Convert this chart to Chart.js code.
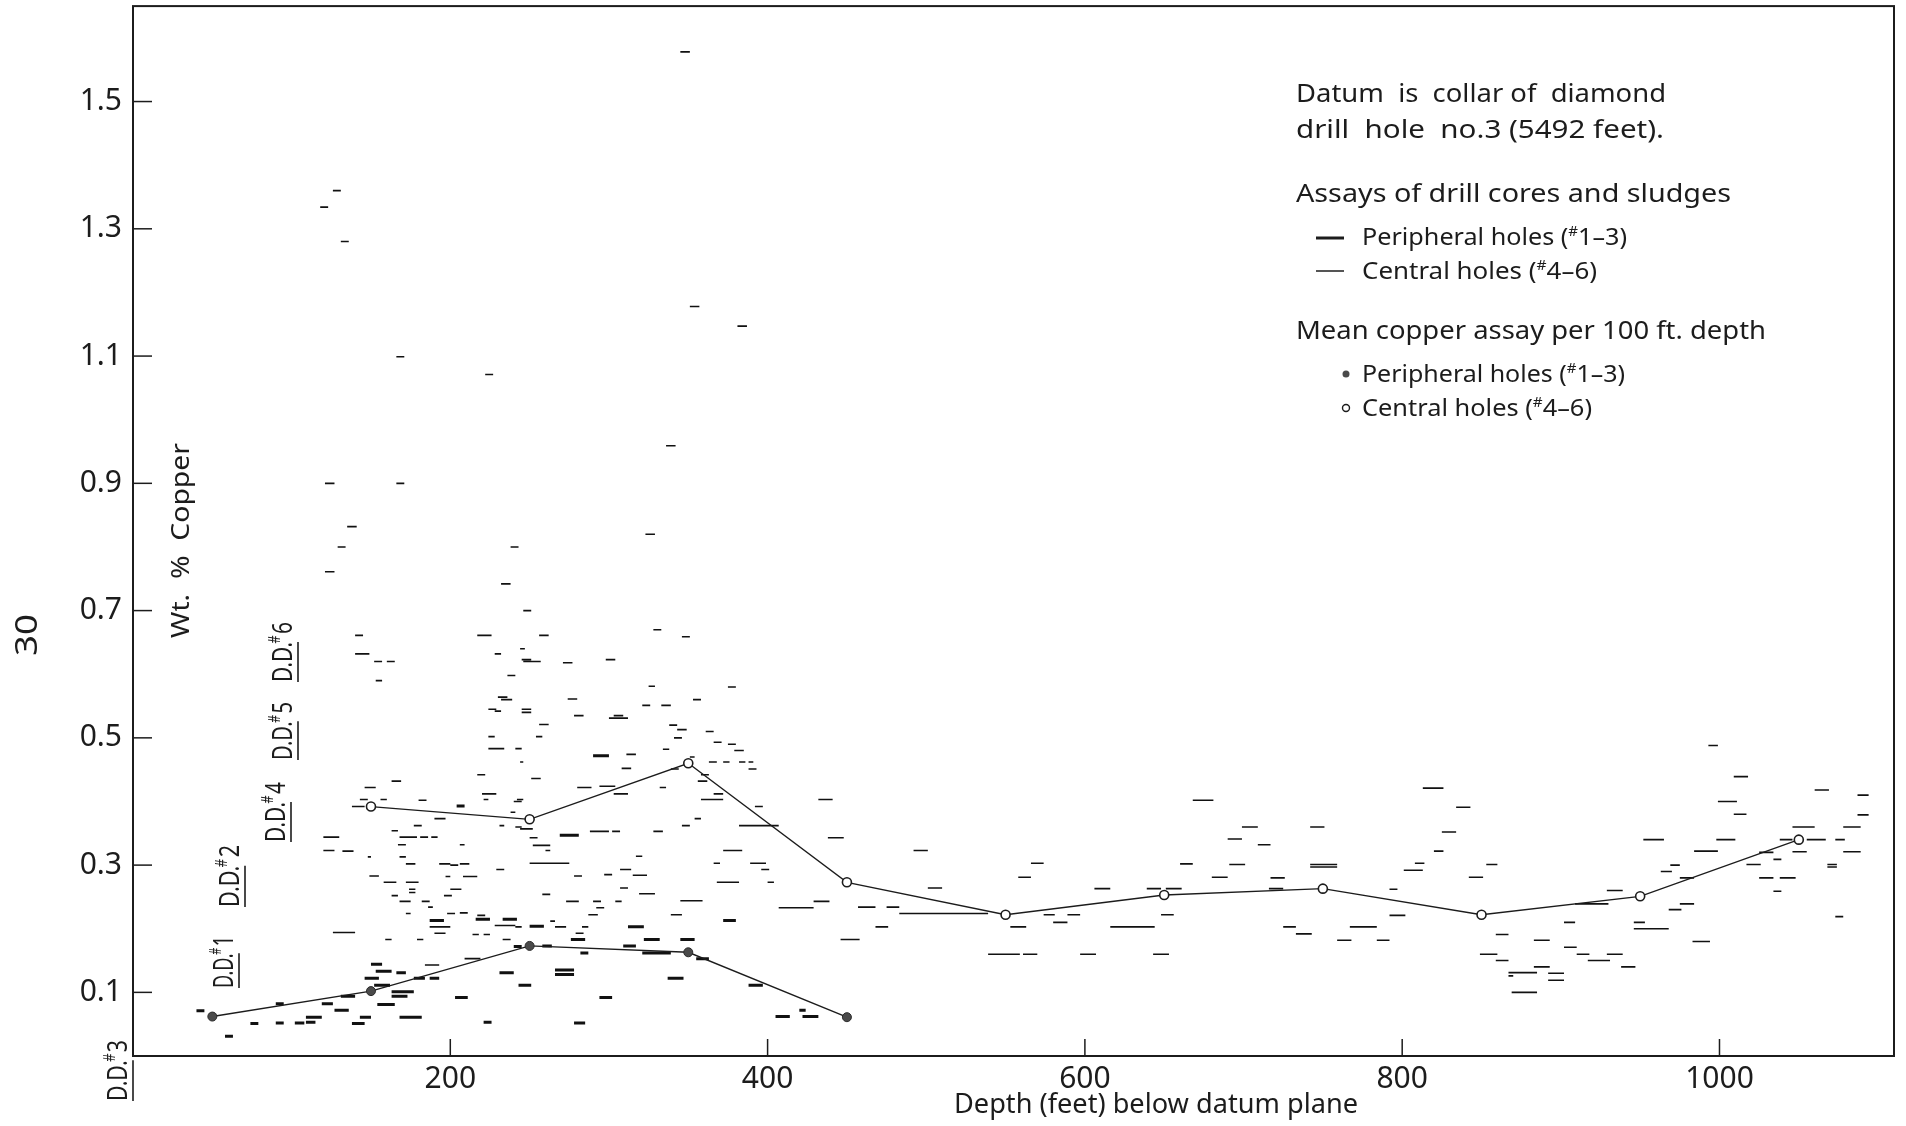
<!DOCTYPE html>
<html>
<head>
<meta charset="utf-8">
<title>Copper assays vs depth</title>
<script src="https://cdn.jsdelivr.net/npm/chart.js@4.4.1/dist/chart.umd.min.js"></script>
<style>
  html, body { margin: 0; padding: 0; background: #fff; }
  canvas { display: block; }
</style>
</head>
<body>
<canvas id="chart" width="1906" height="1126"></canvas>
<script>
// axis ticks
const xTicks = [200, 400, 600, 800, 1000]
const yTicks = [0.1, 0.3, 0.5, 0.7, 0.9, 1.1, 1.3, 1.5]

// mean copper assay per 100 ft
const meanDepthPeri = [50, 150, 250, 350, 450]
const meanPeri = [0.062, 0.102, 0.173, 0.163, 0.061]
const meanDepthCent = [150, 250, 350, 450, 550, 650, 750, 850, 950, 1050]
const meanCent = [0.392, 0.372, 0.460, 0.273, 0.222, 0.253, 0.263, 0.222, 0.251, 0.340]

// single assays: [depth from, depth to, % Cu]
const periDashes = [
  [40,45,0.071],[58,63,0.031],[74,79,0.051],[90,95,0.052],[102,108,0.052],[90,95,0.082],[109,115,0.053],[109,119,0.061],[119,126,0.082],[127,136,0.072],
  [131,140,0.094],[138,146,0.051],[143,150,0.061],[150,157,0.144],[152,162,0.111],[154,165,0.081],[163,177,0.101],[163,173,0.094],[166,172,0.131],[168,182,0.061],
  [177,184,0.122],[187,193,0.122],[203,211,0.092],[221,226,0.053],[231,240,0.131],[187,196,0.213],[216,225,0.215],[233,242,0.215],[240,245,0.172],[243,251,0.111],
  [250,259,0.204],[258,264,0.173],[266,278,0.135],[266,278,0.128],[276,285,0.183],[278,285,0.052],[294,302,0.092],[309,317,0.173],[312,322,0.203],[322,332,0.183],
  [337,347,0.122],[345,354,0.183],[355,363,0.153],[372,380,0.213],[388,397,0.111],[405,414,0.062],[420,424,0.072],[422,432,0.062],[290,300,0.472],[204,209,0.393],
  [269,281,0.347],[146,155,0.122],[153,163,0.133],[321,339,0.162],[282,287,0.162]
]

const centDashesShallow = [
  [120,130,0.344],[120,127,0.323],[132,139,0.322],[126,140,0.194],[148,150,0.313],[149,155,0.283],[158,166,0.273],[172,180,0.273],[167,172,0.332],[168,172,0.313],
  [168,179,0.344],[181,186,0.344],[188,192,0.344],[163,167,0.252],[168,175,0.243],[172,178,0.302],[174,178,0.262],[174,178,0.257],[182,187,0.243],[172,175,0.224],
  [186,189,0.234],[187,200,0.203],[190,197,0.193],[179,183,0.183],[159,163,0.183],[193,200,0.302],[200,205,0.300],[206,212,0.302],[197,200,0.282],[208,217,0.282],
  [196,201,0.252],[200,207,0.262],[198,203,0.224],[206,211,0.225],[228,241,0.205],[214,218,0.191],[221,225,0.191],[217,222,0.221],[233,238,0.183],[229,234,0.293],
  [206,209,0.332],[209,219,0.153],[184,193,0.143],[241,245,0.203],[140,145,0.661],[140,149,0.632],[152,157,0.620],[160,165,0.620],[153,157,0.590],[217,226,0.661],
  [228,232,0.632],[232,239,0.560],[228,232,0.542],[224,228,0.502],[224,234,0.483],[241,245,0.483],[217,222,0.442],[220,229,0.412],[221,224,0.403],[240,245,0.400],
  [163,169,0.432],[146,153,0.422],[143,148,0.403],[138,146,0.392],[156,160,0.403],[180,185,0.402],[190,197,0.373],[177,182,0.362],[163,167,0.354],[231,234,0.362],
  [238,241,0.383],[241,245,0.360],[246,251,0.700],[256,262,0.661],[244,247,0.640],[246,257,0.620],[328,333,0.670],[346,351,0.659],[274,280,0.561],[245,251,0.540],
  [256,262,0.521],[254,258,0.502],[244,246,0.462],[300,312,0.531],[321,326,0.551],[325,329,0.581],[375,380,0.580],[353,358,0.560],[338,343,0.520],[341,346,0.500],
  [334,338,0.482],[361,366,0.510],[375,380,0.490],[379,385,0.480],[363,368,0.462],[372,376,0.462],[382,386,0.462],[388,391,0.462],[388,393,0.451],[339,344,0.451],
  [351,354,0.470],[358,363,0.442],[356,362,0.432],[366,372,0.412],[358,372,0.403],[392,397,0.392],[432,441,0.403],[280,289,0.422],[294,304,0.424],[303,312,0.412],
  [242,246,0.403],[332,336,0.422],[354,358,0.373],[346,351,0.362],[382,407,0.362],[288,300,0.353],[302,307,0.353],[328,334,0.353],[438,448,0.343],[244,252,0.357],
  [250,255,0.343],[252,263,0.331],[260,263,0.323],[250,261,0.303],[261,275,0.303],[278,283,0.283],[297,302,0.285],[307,314,0.293],[315,324,0.284],[317,321,0.314],
  [307,312,0.264],[319,329,0.255],[258,263,0.254],[273,281,0.243],[290,295,0.243],[304,308,0.243],[292,297,0.233],[287,293,0.222],[263,266,0.212],[266,273,0.203],
  [283,287,0.203],[279,284,0.193],[345,359,0.244],[339,346,0.222],[368,382,0.273],[372,384,0.323],[366,370,0.303],[389,399,0.303],[396,401,0.293],[400,404,0.273],
  [407,429,0.233],[429,439,0.243],[446,458,0.183],
  // high values
  [345,351,1.578],[118,123,1.334],[126,131,1.360],[131,136,1.280],[166,171,1.099],[222,227,1.071],[351,357,1.178],[381,387,1.147],[121,127,0.900],[166,171,0.900],
  [135,141,0.832],[129,134,0.800],[121,127,0.761],[238,243,0.800],[323,329,0.820],[336,342,0.959],[232,238,0.742],[245,251,0.623],[245,251,0.545],[278,284,0.535],
  [298,304,0.623],[271,277,0.618],[303,309,0.535],[333,339,0.551],[343,349,0.513],[251,257,0.436],[366,371,0.493],[224,229,0.545],[230,236,0.564],[236,241,0.598],
  [308,314,0.452],[311,317,0.474]
]

const centDashesDeep = [
  [457,468,0.234],[475,483,0.234],[468,476,0.203],[483,488,0.224],[492,501,0.323],[501,510,0.264],[483,539,0.224],[566,574,0.303],[558,566,0.281],[553,563,0.203],
  [539,559,0.160],[561,570,0.160],[574,581,0.222],[589,597,0.222],[580,589,0.210],[597,607,0.160],[606,616,0.263],[616,644,0.203],[639,648,0.263],[651,661,0.263],
  [648,656,0.222],[643,653,0.160],[660,668,0.302],[668,681,0.402],[680,690,0.281],[690,699,0.341],[691,701,0.301],[699,709,0.360],[709,717,0.332],[716,725,0.263],
  [717,726,0.280],[725,733,0.203],[733,743,0.192],[742,751,0.360],[742,759,0.301],[742,759,0.297],[759,768,0.182],[767,784,0.203],[784,792,0.182],[792,802,0.221],
  [792,797,0.262],[801,813,0.292],[808,814,0.303],[813,826,0.421],[820,826,0.322],[825,834,0.352],[834,843,0.391],[842,851,0.281],[853,860,0.301],[849,860,0.160],
  [859,867,0.191],[859,867,0.150],[867,885,0.131],[867,870,0.126],[869,885,0.100],[883,893,0.140],[892,902,0.130],[892,902,0.119],[883,893,0.182],[902,909,0.210],
  [902,910,0.171],[910,918,0.160],[917,931,0.150],[909,930,0.239],[929,939,0.160],[929,939,0.260],[938,947,0.140],[946,953,0.210],[946,968,0.200],[952,965,0.340],
  [963,970,0.290],[968,976,0.230],[969,975,0.300],[975,984,0.239],[975,984,0.280],[983,994,0.180],[984,999,0.322],[993,999,0.488],[998,1010,0.340],[999,1011,0.400],
  [1009,1018,0.439],[1009,1017,0.380],[1017,1026,0.301],[1025,1034,0.280],[1025,1034,0.320],[1034,1039,0.259],[1034,1039,0.309],[1038,1048,0.280],[1038,1046,0.340],[1046,1060,0.360],
  [1046,1055,0.321],[1055,1067,0.340],[1060,1069,0.418],[1068,1074,0.301],[1068,1074,0.297],[1073,1079,0.340],[1073,1078,0.219],[1078,1089,0.360],[1078,1089,0.321],[1087,1094,0.410],
  [1087,1094,0.379]
]

const FONT = '"Noto Sans", "DejaVu Sans", sans-serif'
const INK = '#1c1c1c'

// each dash becomes two points followed by a gap
function dashPoints(list) {
  const pts = []
  list.forEach(([from, to, v]) => {
    pts.push({ x: from, y: v }, { x: to, y: v }, { x: to, y: null })
  })
  return pts
}

// text made of runs, a run starting with ^ is superscript; squeezed to a target width
function drawRuns(ctx, parts, x, y, size, width, rot) {
  ctx.save()
  ctx.translate(x, y)
  if (rot) ctx.rotate(rot)
  const fontOf = p => (p[0] === '^' ? (size * 0.6) : size) + 'px ' + FONT
  const txt = p => (p[0] === '^' ? p.slice(1) : p)
  let total = 0
  const widths = parts.map(p => {
    ctx.font = fontOf(p)
    const w = ctx.measureText(txt(p)).width
    total += w
    return w
  })
  const sx = width ? width / total : 1
  ctx.scale(sx, 1)
  ctx.fillStyle = INK
  ctx.textBaseline = 'alphabetic'
  let cx = 0
  parts.forEach((p, i) => {
    ctx.font = fontOf(p)
    ctx.fillText(txt(p), cx, p[0] === '^' ? -size * 0.4 : 0)
    cx += widths[i]
  })
  ctx.restore()
}

function ddLabel(ctx, num, bx, by, len) {
  const size = 28
  ctx.save()
  ctx.translate(bx, by)
  ctx.rotate(-Math.PI / 2)
  ctx.font = size + 'px ' + FONT
  const wDD = ctx.measureText('D.D.').width
  const wNum = ctx.measureText(num).width
  ctx.font = (size * 0.6) + 'px ' + FONT
  const wHash = ctx.measureText('#').width
  ctx.scale(len / (wDD + wHash + wNum), 1)
  ctx.fillStyle = INK
  ctx.font = size + 'px ' + FONT
  ctx.fillText('D.D.', 0, 0)
  ctx.fillText(num, wDD + wHash, 0)
  ctx.font = (size * 0.6) + 'px ' + FONT
  ctx.fillText('#', wDD - 2, -size * 0.42)
  ctx.strokeStyle = INK
  ctx.lineWidth = 1.6
  ctx.beginPath()
  ctx.moveTo(0, 6)
  ctx.lineTo(wDD, 6)
  ctx.stroke()
  ctx.restore()
}

function line(ctx, x1, y1, x2, y2) {
  ctx.beginPath()
  ctx.moveTo(x1, y1)
  ctx.lineTo(x2, y2)
  ctx.stroke()
}

const decor = {
  id: 'decor',
  afterDraw(chart) {
    const { ctx, chartArea: a, scales } = chart
    ctx.save()
    ctx.strokeStyle = INK
    ctx.lineWidth = 2
    ctx.strokeRect(a.left, a.top, a.right - a.left, a.bottom - a.top)

    // ticks point into the plot
    ctx.lineWidth = 1.5
    yTicks.forEach(v => {
      const py = scales.y.getPixelForValue(v)
      line(ctx, a.left, py, a.left + 19, py)
    })
    xTicks.forEach(v => {
      const px = scales.x.getPixelForValue(v)
      line(ctx, px, a.bottom, px, a.bottom - 17)
    })

    // titles
    drawRuns(ctx, ['Depth (feet) below datum plane'], 954, 1113, 27, 404)
    drawRuns(ctx, ['Wt.  %  Copper'], 189, 638, 26, 195, -Math.PI / 2)
    drawRuns(ctx, ['30'], 37, 656, 30, 42, -Math.PI / 2)

    // drill hole labels
    ddLabel(ctx, '3', 127, 1101, 61)
    ddLabel(ctx, '1', 233, 988, 52)
    ddLabel(ctx, '2', 239, 907, 62)
    ddLabel(ctx, '4', 285, 842, 60)
    ddLabel(ctx, '5', 292, 760, 58)
    ddLabel(ctx, '6', 292, 682, 60)

    // legend block
    drawRuns(ctx, ['Datum  is  collar of  diamond'], 1296, 102, 26, 370)
    drawRuns(ctx, ['drill  hole  no.3 (5492 feet).'], 1296, 138, 26, 368)
    drawRuns(ctx, ['Assays of drill cores and sludges'], 1296, 202, 26, 435)
    drawRuns(ctx, ['Peripheral holes (', '^#', '1\u20133)'], 1362, 245, 23, 265)
    drawRuns(ctx, ['Central holes (', '^#', '4\u20136)'], 1362, 279, 23, 235)
    drawRuns(ctx, ['Mean copper assay per 100 ft. depth'], 1296, 339, 26, 470)
    drawRuns(ctx, ['Peripheral holes (', '^#', '1\u20133)'], 1362, 382, 23, 263)
    drawRuns(ctx, ['Central holes (', '^#', '4\u20136)'], 1362, 416, 23, 230)

    ctx.lineWidth = 3
    line(ctx, 1316, 238, 1344, 238)
    ctx.lineWidth = 1.5
    line(ctx, 1316, 271, 1344, 271)

    ctx.fillStyle = '#4a4a4a'
    ctx.beginPath()
    ctx.arc(1346, 374, 3.5, 0, Math.PI * 2)
    ctx.fill()
    ctx.fillStyle = '#fff'
    ctx.lineWidth = 1.4
    ctx.beginPath()
    ctx.arc(1346, 408, 3.5, 0, Math.PI * 2)
    ctx.fill()
    ctx.stroke()
    ctx.restore()
  }
}

new Chart(document.getElementById('chart'), {
  type: 'scatter',
  data: {
    datasets: [
      {
        label: 'Mean, peripheral holes',
        data: meanDepthPeri.map((d, i) => ({ x: d, y: meanPeri[i] })),
        showLine: true,
        borderColor: INK,
        borderWidth: 1.4,
        pointRadius: 4.5,
        pointBackgroundColor: '#4a4a4a',
        pointBorderColor: '#2a2a2a',
        pointBorderWidth: 1,
        order: 0
      },
      {
        label: 'Mean, central holes',
        data: meanDepthCent.map((d, i) => ({ x: d, y: meanCent[i] })),
        showLine: true,
        borderColor: INK,
        borderWidth: 1.3,
        pointRadius: 4.5,
        pointBackgroundColor: '#fff',
        pointBorderColor: INK,
        pointBorderWidth: 1.6,
        order: 0
      },
      {
        label: 'Peripheral holes',
        data: dashPoints(periDashes),
        showLine: true,
        spanGaps: false,
        borderColor: '#111',
        borderWidth: 3,
        borderCapStyle: 'butt',
        pointRadius: 0,
        order: 1
      },
      {
        label: 'Central holes',
        data: dashPoints(centDashesShallow.concat(centDashesDeep)),
        showLine: true,
        spanGaps: false,
        borderColor: '#111',
        borderWidth: 1.6,
        borderCapStyle: 'butt',
        pointRadius: 0,
        order: 1
      }
    ]
  },
  options: {
    responsive: false,
    animation: false,
    layout: { padding: { top: 6, right: 12, left: 0, bottom: 0 } },
    plugins: { legend: { display: false }, tooltip: { enabled: false } },
    scales: {
      x: {
        type: 'linear',
        min: 0,
        max: 1110,
        afterBuildTicks: s => { s.ticks = xTicks.map(v => ({ value: v })) },
        afterFit: s => { s.height = 70; s.paddingLeft = 0; s.paddingRight = 0 },
        grid: { display: false },
        border: { display: false },
        ticks: { font: { family: FONT, size: 30 }, color: INK, padding: -3, maxRotation: 0, autoSkip: false, callback: v => String(v) }
      },
      y: {
        min: 0,
        max: 1.65,
        afterBuildTicks: s => { s.ticks = yTicks.map(v => ({ value: v })) },
        afterFit: s => { s.width = 133; s.paddingTop = 0; s.paddingBottom = 0 },
        grid: { display: false },
        border: { display: false },
        ticks: { font: { family: FONT, size: 30 }, color: INK, padding: 3, callback: v => v.toFixed(1) }
      }
    }
  },
  plugins: [decor]
})
</script>
</body>
</html>
